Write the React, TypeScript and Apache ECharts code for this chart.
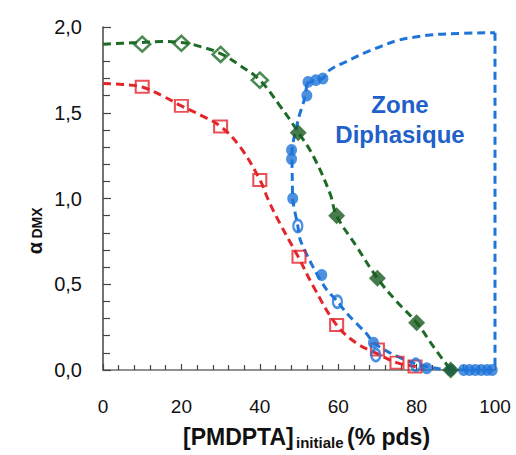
import React, { useEffect, useRef } from "react";
import * as echarts from "echarts";

// ---- data ----
const greenOpen: [number, number][] = [[10, 1.9], [20, 1.905], [30, 1.84], [40, 1.69]];
const greenFilled: [number, number][] = [[49.8, 1.384], [59.6, 0.9], [70, 0.535], [80, 0.276], [88.7, 0.0]];
const redSquares: [number, number][] = [[10, 1.652], [20, 1.54], [30, 1.42], [40, 1.108], [50, 0.66], [59.6, 0.262], [70, 0.12], [75, 0.043], [79.6, 0.02]];
const blueFilled: [number, number][] = [
  [52.3, 1.68], [54.3, 1.69], [56.1, 1.7], [52, 1.6], [48.1, 1.283], [48.1, 1.23], [48.4, 1.0],
  [55.8, 0.554], [69, 0.159], [82.6, 0.01], [88.7, 0.0], [92, 0.0], [93.5, 0.0], [95, 0.0], [96.5, 0.0], [98, 0.0], [99.3, 0.0],
];
const blueOpen: [number, number][] = [[49.7, 0.84], [59.8, 0.398], [69.6, 0.087], [79.8, 0.03]];

const greenCurve: [number, number][] = [
  [0, 1.9], [5, 1.905], [10, 1.91], [15, 1.915], [20, 1.91], [25, 1.885], [30, 1.845], [35, 1.775], [40, 1.69],
  [45, 1.545], [50, 1.38], [53.7, 1.245], [57.9, 1.03], [59.6, 0.9], [64.7, 0.72], [70, 0.535], [74.9, 0.4],
  [80, 0.276], [84.3, 0.136], [88.7, 0.0],
];
const redCurve: [number, number][] = [
  [0, 1.67], [5, 1.665], [10, 1.65], [15, 1.6], [20, 1.54], [25, 1.485], [30, 1.42], [35, 1.3], [40, 1.11],
  [42.2, 0.99], [45, 0.86], [49.8, 0.66], [53.6, 0.49], [59.6, 0.262], [64.7, 0.156], [69.8, 0.097],
  [74.9, 0.043], [79.6, 0.02], [82, 0.0],
];
const blueLower: [number, number][] = [
  [52, 1.67], [51.5, 1.59], [49.8, 1.46], [48.2, 1.26], [48.3, 1.1], [48.4, 1.0], [49.7, 0.84], [50.3, 0.76],
  [53.6, 0.6], [57, 0.47], [59.8, 0.4], [62.2, 0.33], [67.3, 0.21], [69, 0.16], [73.2, 0.1], [79.2, 0.04],
  [85, 0.01], [88.7, 0.0], [100, 0.0],
];
const blueUpper: [number, number][] = [
  [52, 1.67], [54, 1.69], [56, 1.7], [57.9, 1.75], [62.2, 1.8], [66.4, 1.846], [70.7, 1.885], [74.9, 1.92],
  [79.2, 1.94], [83.4, 1.953], [87.7, 1.96], [100, 1.967],
];
const blueRight: [number, number][] = [[100, 1.967], [100, 0.0]];

const xTicks = { min: 0, max: 100, interval: 20 };
const yTicks = { min: 0, max: 2, interval: 0.5 };

const GREEN = "#1e6b27";
const GREEN_DARK = "#1a5a1e";
const RED = "#e3262c";
const BLUE = "#1f74d8";
const TEXT_BLUE = "#2060c8";
const FONT = "Liberation Sans, Arial, sans-serif";

export default function App() {
  const ref = useRef<HTMLDivElement>(null);
  useEffect(() => {
    if (!ref.current) return;
    const chart = echarts.init(ref.current, undefined, { renderer: "svg" });
    const dashed = (color: string) => ({ color, width: 3, type: [8, 5] as number[] });
    const lineSeries = (data: [number, number][], color: string, smooth: number | boolean) => ({
      type: "line",
      data,
      smooth,
      showSymbol: false,
      symbol: "none",
      lineStyle: dashed(color),
      z: 2,
    });
    const txt = (x: number, y: number, text: string, font: string, fill: string, align: string, rotation = 0) => ({
      type: "text",
      x,
      y,
      rotation,
      style: { text, fill, font, align, verticalAlign: "middle", textAlign: align, textVerticalAlign: "middle" },
    });
    chart.setOption({
      animation: false,
      backgroundColor: "#fff",
      grid: { left: 103, right: 21, top: 27, bottom: 85 },
      xAxis: [
        {
          type: "value",
          ...xTicks,
          axisLine: { show: true, onZero: false, lineStyle: { color: "#444", width: 1.5 } },
          axisTick: { show: true, inside: true, length: 6, lineStyle: { color: "#444", width: 1.2 } },
          minorTick: { show: true, splitNumber: 5, length: 5, lineStyle: { color: "#444", width: 1.2 } },
          splitLine: { show: false },
          axisLabel: { color: "#111", fontSize: 19, fontFamily: FONT, margin: 27 },
        },
        {
          type: "value",
          position: "top",
          ...xTicks,
          axisLine: { show: true, lineStyle: { color: "#9a9a9a", width: 1.5 } },
          axisTick: { show: false },
          axisLabel: { show: false },
          splitLine: { show: false },
        },
      ],
      yAxis: {
        type: "value",
        ...yTicks,
        axisLine: { show: true, onZero: false, lineStyle: { color: "#444", width: 1.5 } },
        axisTick: { show: true, inside: true, length: 8, lineStyle: { color: "#444", width: 1.2 } },
        minorTick: { show: true, splitNumber: 5, length: 7, lineStyle: { color: "#444", width: 1.2 } },
        splitLine: { show: false },
        axisLabel: {
          color: "#111",
          fontSize: 20,
          fontFamily: FONT,
          margin: 21,
          formatter: (v: number) => v.toFixed(1).replace(".", ","),
        },
      },
      series: [
        lineSeries(greenCurve, GREEN, 0.4),
        lineSeries(redCurve, RED, 0.4),
        lineSeries(blueLower, BLUE, 0.3),
        lineSeries(blueUpper, BLUE, 0.4),
        lineSeries(blueRight, BLUE, false),
        {
          type: "scatter",
          data: redSquares,
          symbol: "rect",
          symbolSize: [13, 12],
          itemStyle: { color: "rgba(255,255,255,0)", borderColor: RED, borderWidth: 2 },
          z: 4,
        },
        {
          type: "scatter",
          data: blueOpen,
          symbol: "circle",
          symbolSize: [9, 12],
          itemStyle: { color: "rgba(255,255,255,0)", borderColor: BLUE, borderWidth: 2.5 },
          z: 5,
        },
        {
          type: "scatter",
          data: blueFilled,
          symbol: "circle",
          symbolSize: [11, 12],
          itemStyle: { color: BLUE },
          z: 5,
        },
        {
          type: "scatter",
          data: greenOpen,
          symbol: "diamond",
          symbolSize: [16, 15],
          itemStyle: { color: "rgba(255,255,255,0)", borderColor: GREEN, borderWidth: 2.5 },
          z: 6,
        },
        {
          type: "scatter",
          data: greenFilled,
          symbol: "diamond",
          symbolSize: [17, 17],
          itemStyle: { color: GREEN_DARK },
          z: 6,
        },
      ],
      graphic: [
        txt(400, 104, "Zone", `bold 24px ${FONT}`, TEXT_BLUE, "center"),
        txt(400, 134, "Diphasique", `bold 24px ${FONT}`, TEXT_BLUE, "center"),
        txt(183, 437, "[PMDPTA]", `bold 23px ${FONT}`, "#111", "left"),
        txt(296, 442, "initiale", `bold 15px ${FONT}`, "#111", "left"),
        txt(347, 437, "(% pds)", `bold 23px ${FONT}`, "#111", "left"),
        txt(35, 248, "α", `bold 20px ${FONT}`, "#111", "center", Math.PI / 2),
        txt(37, 223, "DMX", `bold 14px ${FONT}`, "#111", "center", Math.PI / 2),
      ],
    });
    return () => chart.dispose();
  }, []);
  return <div ref={ref} style={{ width: 516, height: 455, position: "absolute", left: 0, top: 0 }} />;
}
